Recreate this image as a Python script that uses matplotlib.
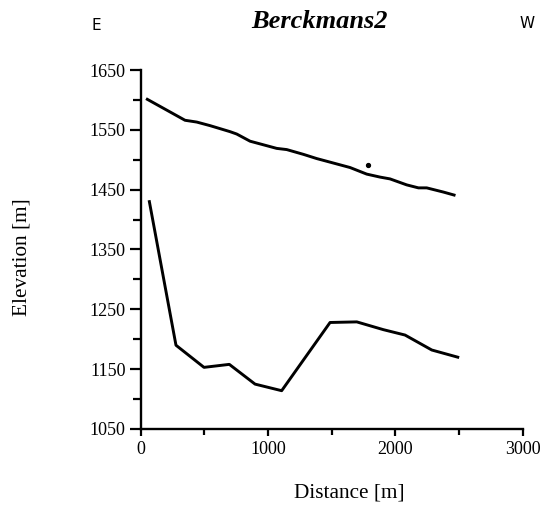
import matplotlib
matplotlib.use("Agg")
import matplotlib.pyplot as plt
from matplotlib.ticker import MultipleLocator

# Surface profile (upper line)
surface_x = [52, 348, 440, 545, 701, 754, 859, 1068, 1147, 1278, 1382, 1487,
             1644, 1775, 1880, 1958, 2089, 2181, 2246, 2377, 2461]
surface_y = [1601, 1566, 1563, 1557, 1547, 1543, 1531, 1519, 1517, 1509, 1502, 1496,
             1487, 1476, 1471, 1468, 1458, 1453, 1453, 1446, 1441]

# Bed profile (lower line)
bed_x = [68, 277, 497, 696, 898, 1107, 1487, 1697, 1906, 2076, 2286, 2490]
bed_y = [1430, 1190, 1153, 1158, 1125, 1114, 1228, 1229, 1216, 1207, 1182, 1170]

# Stray dot
dot_x = [1788]
dot_y = [1492]

xticks = [0, 1000, 2000, 3000]
yticks = [1050, 1150, 1250, 1350, 1450, 1550, 1650]

fig = plt.figure(figsize=(5.42, 5.11), dpi=100)
ax = fig.add_axes([0.2596, 0.1605, 0.7048, 0.7025])

serif = ["Liberation Serif", "DejaVu Serif"]
narrow = ["DejaVu Sans Condensed", "Liberation Sans Narrow", "DejaVu Sans"]

ax.plot(surface_x, surface_y, color="black", lw=2.1, solid_joinstyle="round")
ax.plot(bed_x, bed_y, color="black", lw=2.1, solid_joinstyle="round")
ax.plot(dot_x, dot_y, "o", color="black", ms=2.8)

ax.set_xlim(0, 3000)
ax.set_ylim(1050, 1650)
ax.set_xticks(xticks)
ax.set_yticks(yticks)
ax.xaxis.set_minor_locator(MultipleLocator(500))
ax.yaxis.set_minor_locator(MultipleLocator(50))

for s in ["top", "right"]:
    ax.spines[s].set_visible(False)
for s in ["left", "bottom"]:
    ax.spines[s].set_linewidth(1.7)

ax.tick_params(axis="y", which="major", direction="out", length=8, width=1.6, pad=3)
ax.tick_params(axis="y", which="minor", direction="out", length=6, width=1.6)
ax.tick_params(axis="x", which="major", direction="out", length=5, width=1.6, pad=4)
ax.tick_params(axis="x", which="minor", direction="out", length=4, width=1.6)
for lab in ax.get_xticklabels() + ax.get_yticklabels():
    lab.set_fontfamily(serif)
    lab.set_fontsize(13)

ax.set_xlabel("Distance [m]", family=serif, fontsize=15.3)
ax.xaxis.set_label_coords(0.545, -0.152)
ax.set_ylabel("Elevation [m]", family=serif, fontsize=15.3)
ax.yaxis.label.set_va("center")
ax.yaxis.set_label_coords(-0.31, 0.479)

fig.text(0.589, 1 - 22 / 511, "Berckmans2", family=serif, fontsize=19,
         fontweight="bold", style="italic", ha="center", va="center")
fig.text(96 / 542, 1 - 26 / 511, "E", family=narrow, fontsize=11,
         ha="center", va="center")
fig.text(527 / 542, 1 - 23 / 511, "W", family=narrow, fontsize=11,
         ha="center", va="center")

fig.savefig("out.png", dpi=100)
